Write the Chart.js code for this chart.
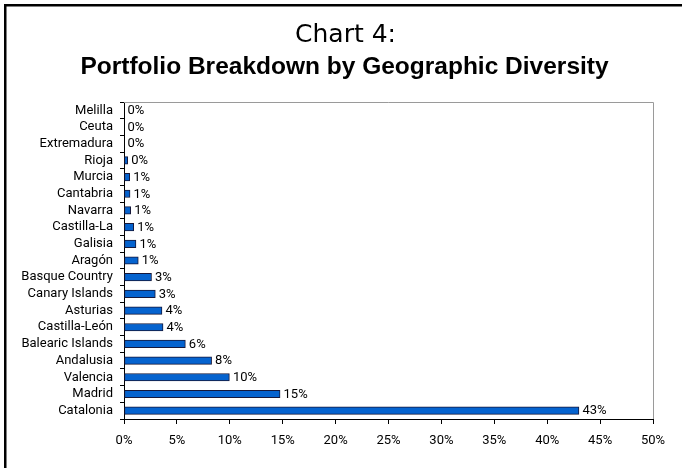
<!DOCTYPE html>
<html>
<head>
<meta charset="utf-8">
<script src="https://cdn.jsdelivr.net/npm/chart.js@4.4.1/dist/chart.umd.min.js"></script>
<style>
  html, body { margin: 0; padding: 0; background: #ffffff; }
  #wrap { position: relative; width: 682px; height: 468px; }
  canvas { display: block; }
</style>
</head>
<body>
<div id="wrap"><canvas id="c" width="682" height="468"></canvas></div>
<script>
// ---- Data ----
const titleText = "Chart 4:";
const subtitleText = "Portfolio Breakdown by Geographic Diversity";
const regions = ["Melilla", "Ceuta", "Extremadura", "Rioja", "Murcia", "Cantabria", "Navarra",
  "Castilla-La", "Galisia", "Aragón", "Basque Country", "Canary Islands", "Asturias",
  "Castilla-León", "Balearic Islands", "Andalusia", "Valencia", "Madrid", "Catalonia"];
const shares = [0, 0, 0, 0.35, 0.54, 0.57, 0.63, 0.92, 1.13, 1.35, 2.6, 2.96, 3.59, 3.69,
  5.8, 8.28, 9.96, 14.75, 43.0];
const shareLabels = ["0%", "0%", "0%", "0%", "1%", "1%", "1%", "1%", "1%", "1%", "3%", "3%",
  "4%", "4%", "6%", "8%", "10%", "15%", "43%"];
const xTickMin = 0, xTickMax = 50, xTickStep = 5;

const tickFamily = "Roboto, 'Liberation Sans', sans-serif";
const tickSize = 13;

const framePlugin = {
  id: 'frame',
  beforeDraw(chart) {
    const ctx = chart.ctx;
    ctx.save();
    ctx.fillStyle = '#ffffff';
    ctx.fillRect(0, 0, chart.width, chart.height);
    ctx.fillStyle = '#000000';
    ctx.fillRect(4, 4, chart.width - 4, 2.5);
    ctx.fillRect(4, 4, 2.5, chart.height - 4);
    // titles
    ctx.textAlign = 'center';
    ctx.textBaseline = 'alphabetic';
    ctx.font = "normal 25px 'DejaVu Sans', sans-serif";
    ctx.fillText(titleText, 345.5, 41.5);
    ctx.font = "bold 24.5px 'Liberation Sans', Arial, sans-serif";
    ctx.fillText(subtitleText, 344.5, 74);
    ctx.restore();
  },
  afterDraw(chart) {
    const ctx = chart.ctx, a = chart.chartArea;
    ctx.save();
    ctx.strokeStyle = '#9a9a9a';
    ctx.lineWidth = 1;
    ctx.beginPath();
    ctx.moveTo(a.left, Math.round(a.top) + 0.5);
    ctx.lineTo(Math.round(a.right) + 0.5, Math.round(a.top) + 0.5);
    ctx.lineTo(Math.round(a.right) + 0.5, a.bottom);
    ctx.stroke();
    ctx.restore();
  }
};

const valueLabelPlugin = {
  id: 'valueLabels',
  afterDatasetsDraw(chart) {
    const ctx = chart.ctx;
    const meta = chart.getDatasetMeta(0);
    ctx.save();
    ctx.font = tickSize + "px " + tickFamily;
    ctx.fillStyle = '#000000';
    ctx.textAlign = 'left';
    ctx.textBaseline = 'middle';
    meta.data.forEach((bar, i) => {
      ctx.fillText(shareLabels[i], bar.x + 3.5, bar.y + 0.5);
    });
    ctx.restore();
  }
};

new Chart(document.getElementById('c'), {
  type: 'bar',
  data: {
    labels: regions,
    datasets: [{
      data: shares,
      backgroundColor: '#0563CF',
      borderColor: '#15173a',
      borderWidth: 1,
      borderSkipped: false,
      barThickness: 7.5
    }]
  },
  options: {
    indexAxis: 'y',
    responsive: false,
    animation: false,
    devicePixelRatio: 1,
    layout: { padding: { left: 0, right: 29, top: 102, bottom: 0 } },
    plugins: {
      legend: { display: false },
      tooltip: { enabled: false },
      title: { display: false },
      subtitle: { display: false }
    },
    scales: {
      x: {
        min: xTickMin,
        max: xTickMax,
        ticks: {
          stepSize: xTickStep,
          color: '#000000',
          font: { family: tickFamily, size: tickSize },
          padding: 9,
          maxRotation: 0,
          callback: v => v + '%'
        },
        grid: { display: true, drawOnChartArea: false, color: '#000000', tickLength: 5, lineWidth: 1 },
        border: { display: true, color: '#000000', width: 1 },
        afterFit: s => { s.height = 49; }
      },
      y: {
        ticks: {
          color: '#000000',
          font: { family: tickFamily, size: tickSize },
          padding: 7,
          autoSkip: false
        },
        grid: { display: true, drawOnChartArea: false, color: '#000000', tickLength: 4, lineWidth: 1, offset: true },
        border: { display: true, color: '#000000', width: 1 },
        afterFit: s => { s.width = 124; }
      }
    }
  },
  plugins: [framePlugin, valueLabelPlugin]
});
</script>
</body>
</html>
